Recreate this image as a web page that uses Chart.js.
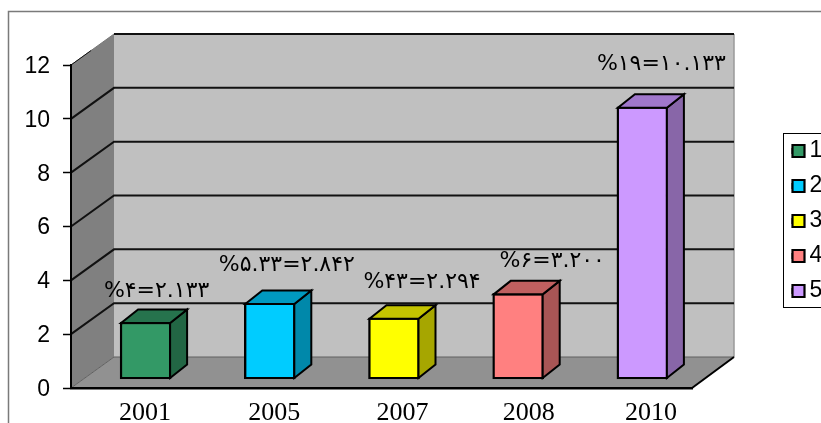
<!DOCTYPE html>
<html><head><meta charset="utf-8">
<style>html,body{margin:0;padding:0;background:#fff;overflow:hidden}canvas{display:block}</style>
<script src="https://cdn.jsdelivr.net/npm/chart.js@4"></script>
</head><body><canvas id="c" width="821" height="423"></canvas>
<script>
const categories = ['2001','2005','2007','2008','2010'];
const values = [2.133,2.842,2.294,3.2,10.133];
const valueLabels = ['%۴=۲.۱۳۳','%۵.۳۳=۲.۸۴۲','%۴۳=۲.۲۹۴','%۶=۳.۲۰۰','%۱۹=۱۰.۱۳۳'];
const legendLabels = ['1','2','3','4','5'];
const frontColors = ['#339966','#00ccff','#ffff00','#ff8080','#cc99ff'];
const sideColors = ['#226644','#0088aa','#a6a600','#a85555','#8866a8'];
const topColors = ['#26734d','#0099c0','#c4c400','#c06060','#a077cc'];
const tickShift = [12,17,21,23,21];
const labelShiftX = [11,17,28,34,19];
const labelLift = [32,39,36,33,43];

const WALL = {dx:43, dy:-31, right:734};
const BAR = {dx:17, dy:-13.5, ox:12.5, oy:-8.5};
const LEG = {x:792, size:12, pad:12, row:23, top:127.5};

function poly(ctx, pts, fill, stroke, lw){
  ctx.beginPath();
  pts.forEach((p,i)=> i ? ctx.lineTo(p[0],p[1]) : ctx.moveTo(p[0],p[1]));
  ctx.closePath();
  if(fill){ctx.fillStyle=fill;ctx.fill();}
  if(stroke){ctx.strokeStyle=stroke;ctx.lineWidth=lw;ctx.lineJoin='miter';ctx.stroke();}
}
function line(ctx, pts, color, lw){
  ctx.beginPath();
  pts.forEach((p,i)=> i ? ctx.lineTo(p[0],p[1]) : ctx.moveTo(p[0],p[1]));
  ctx.strokeStyle=color;ctx.lineWidth=lw;ctx.stroke();
}

const scene = {
  id:'scene',
  afterLayout(chart){
    const l = chart.legend;
    l.left=LEG.x-LEG.pad; l.right=821; l.top=LEG.top; l.bottom=340; l.width=l.right-l.left; l.height=l.bottom-l.top;
  },
  beforeDraw(chart){
    const {ctx, chartArea:a, scales:{x,y}} = chart;
    x.getLabelItems().forEach((it,i)=>{ it.options.translation[0]=x.getPixelForTick(i)+tickShift[i]; });
    const y0=y.getPixelForValue(0), yTop=y.getPixelForValue(y.max);
    const bx=a.left+WALL.dx, d=WALL.dy;
    ctx.save();
    line(ctx,[[8.5,423],[8.5,11.5],[821,11.5]],'#7a7a7a',1.5);
    poly(ctx,[[a.left,y0],[bx,y0+d],[bx,yTop+d],[a.left,yTop]],'#808080');
    poly(ctx,[[bx,y0+d],[WALL.right,y0+d],[WALL.right,yTop+d],[bx,yTop+d]],'#c0c0c0');
    poly(ctx,[[a.left,y0],[a.right,y0],[WALL.right,y0+d],[bx,y0+d]],'#919191');
    line(ctx,[[WALL.right,y0+d],[WALL.right,yTop+d]],'#9a9a9a',1.5);
    line(ctx,[[a.left,y0],[bx,y0+d],[WALL.right,y0+d]],'#606060',1);
    y.ticks.forEach(t=>{
      if(t.value<=0) return;
      const p=y.getPixelForValue(t.value);
      if(t.value===y.max){
        line(ctx,[[bx,p+d],[a.left,p]],'#777',1);
        line(ctx,[[a.left,p],[a.left+(bx-a.left)*0.47,p+d*0.47]],'#111',1);
        line(ctx,[[bx,p+d],[WALL.right,p+d]],'#111',2);
      } else {
        line(ctx,[[a.left,p],[bx,p+d],[WALL.right,p+d]],'#111',2);
      }
    });
    line(ctx,[[a.right,y0],[WALL.right,y0+d]],'#000',2);
    ctx.restore();
  },
  beforeDatasetsDraw(chart){
    chart.ctx.save();
    chart.ctx.translate(BAR.ox,BAR.oy);
  },
  afterDatasetsDraw(chart){
    const ctx=chart.ctx;
    ctx.restore();
    ctx.save();
    chart.getDatasetMeta(0).data.forEach((b,i)=>{
      const L=b.x-b.width/2+BAR.ox+1, R=b.x+b.width/2+BAR.ox-1, T=b.y+BAR.oy+1, B=b.base+BAR.oy-1;
      poly(ctx,[[R,B],[R+BAR.dx,B+BAR.dy],[R+BAR.dx,T+BAR.dy],[R,T]],sideColors[i],'#000',2);
      poly(ctx,[[L,T],[R,T],[R+BAR.dx,T+BAR.dy],[L+BAR.dx,T+BAR.dy]],topColors[i],'#000',2);
      ctx.fillStyle='#000';
      ctx.font='22px "DejaVu Sans"';
      ctx.letterSpacing='1.2px';
      ctx.textAlign='center';
      ctx.textBaseline='middle';
      ctx.direction='ltr';
      ctx.fillText(valueLabels[i], b.x+BAR.ox+labelShiftX[i], b.y+BAR.oy+1-labelLift[i]);
    });
    ctx.letterSpacing='0px';
    ctx.strokeStyle='#000';ctx.lineWidth=1;
    ctx.strokeRect(783.5,133.5,60,174);
    frontColors.forEach((c,i)=>{
      const cy=LEG.top+LEG.pad+LEG.row/2+i*(LEG.row+LEG.pad);
      ctx.fillStyle=c;ctx.strokeStyle='#000';ctx.lineWidth=2.2;
      ctx.beginPath();ctx.rect(LEG.x+0.5,cy-LEG.size/2,LEG.size,LEG.size);ctx.fill();ctx.stroke();
    });
    ctx.restore();
  }
};

new Chart(document.getElementById('c'),{
  type:'bar',
  plugins:[scene],
  data:{labels:categories,datasets:[{
    data:values,
    backgroundColor:frontColors,
    borderColor:'#000',
    borderWidth:2.4,
    borderSkipped:false,
    barThickness:51
  }]},
  options:{
    responsive:false,
    animation:false,
    devicePixelRatio:1,
    layout:{padding:{left:0,top:65,right:129,bottom:0}},
    scales:{
      x:{
        afterFit(s){s.height=35;},
        grid:{display:false},
        border:{display:true,color:'#000',width:2.5},
        ticks:{color:'#000',padding:2,maxRotation:0,font:{family:'"Liberation Serif"',size:26}}
      },
      y:{
        min:0,max:12,
        afterFit(s){s.width=71;},
        grid:{drawOnChartArea:false,drawTicks:true,tickLength:8,tickColor:'#000',tickWidth:1.5},
        border:{display:true,color:'#000',width:2},
        ticks:{stepSize:2,color:'#000',padding:13,labelOffset:1.5,font:{family:'"Liberation Sans"',size:23}}
      }
    },
    plugins:{
      tooltip:{enabled:false},
      legend:{
        position:'chartArea',
        align:'start',
        labels:{
          boxWidth:6,boxHeight:6,padding:12,color:'#000',
          font:{family:'"Liberation Sans"',size:23},
          generateLabels:()=>legendLabels.map((t,i)=>({text:t,fillStyle:frontColors[i],strokeStyle:'#000',lineWidth:1,hidden:false,index:i}))
        }
      }
    }
  }
});
</script></body></html>
